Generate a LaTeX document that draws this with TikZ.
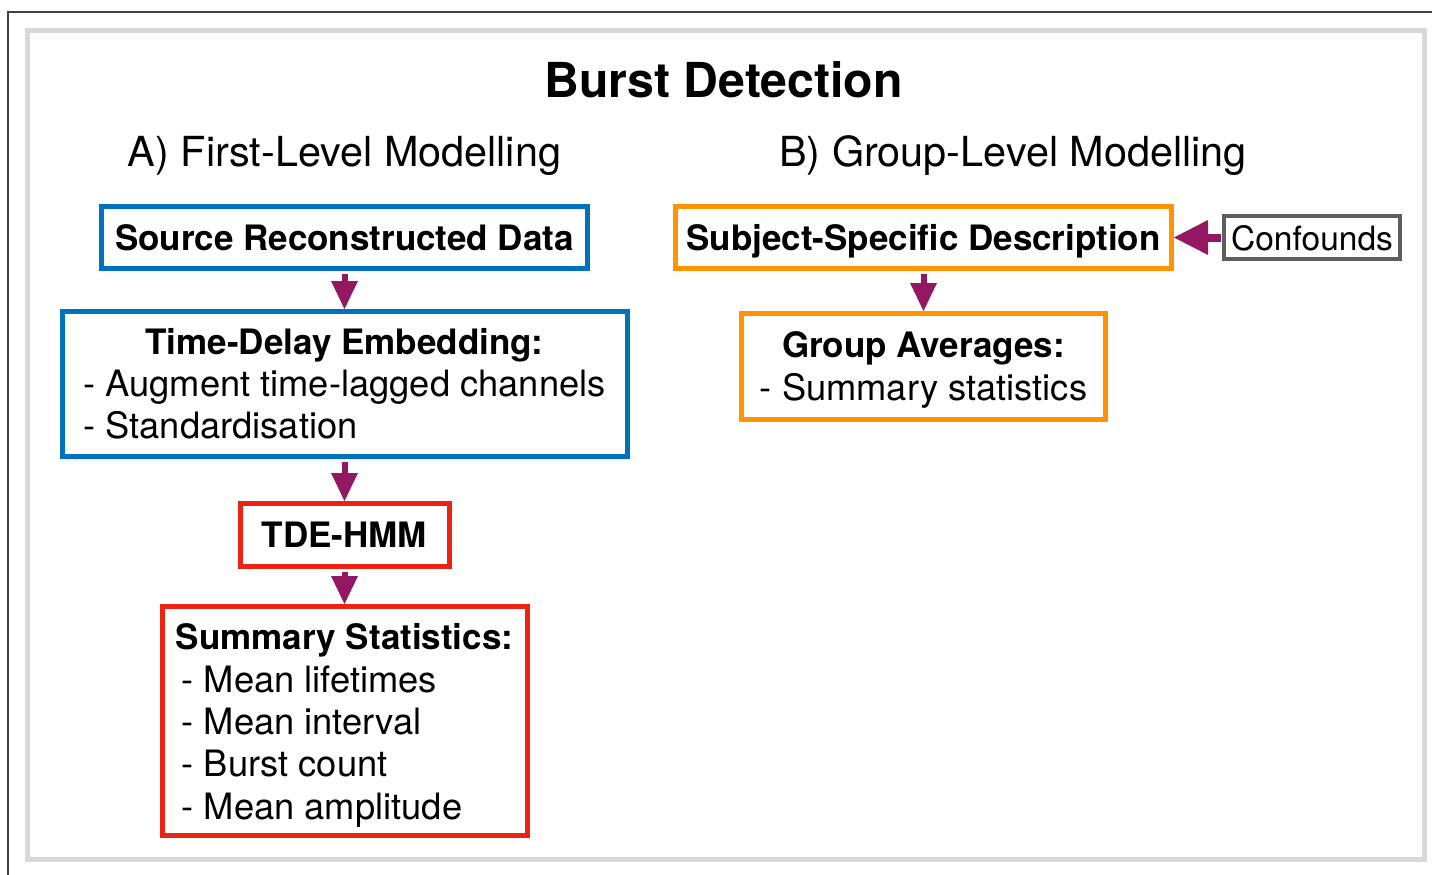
\documentclass[tikz,border=0pt]{standalone}
\usepackage{fontspec}
\setmainfont{TeX Gyre Heros}
\usetikzlibrary{arrows.meta, positioning}

\definecolor{boxblue}{RGB}{0,114,189}
\definecolor{boxred}{RGB}{236,34,18}
\definecolor{boxorange}{RGB}{255,147,0}
\definecolor{boxgray}{RGB}{94,94,94}
\definecolor{arrowpurple}{RGB}{148,23,98}
\definecolor{framegray}{RGB}{216,216,216}

\newcommand\boxhead[1]{\multicolumn{1}{@{}c@{}}{\fontsize{35}{42.3}\selectfont\bfseries #1}}

\begin{document}
\begin{tikzpicture}[x=1pt, y=-1pt, line join=miter,
    box/.style={draw, line width=5pt, fill=white, inner sep=0pt, text depth=0pt,
      font=\fontsize{36.3}{42.3}\selectfont},
    flow/.style={-{Triangle[length=28pt, width=27pt, line width=0pt]},
      line width=6pt, draw=arrowpurple, shorten <=2.5pt},
    heading/.style={anchor=base, font=\fontsize{41.4}{50}\selectfont}]
    \useasboundingbox (0,0) rectangle (1432,875);

    % frames
    \draw[line width=1.5pt, black!75] (1432,12) -- (8,12) -- (8,875);
    \draw[line width=5pt, framegray] (27.5,30.5) rectangle (1424.5,859.5);

    % titles
    \node[anchor=base, font=\fontsize{48.2}{58}\selectfont\bfseries] (title) at (723.5,97) {Burst Detection};
    \node[heading] (headA) at (344.5,166) {A) First-Level Modelling};
    \node[heading] (headB) at (1013,166) {B) Group-Level Modelling};

    % first level
    \node[box, draw=boxblue, minimum width=486pt, minimum height=62pt,
        font=\fontsize{35}{42.3}\selectfont\bfseries] (src) at (344.5,237.5)
        {Source Reconstructed Data};
    \node[box, draw=boxblue, minimum width=565pt, minimum height=145pt, text depth=] (tde) at (344.5,384)
        {\raisebox{-4pt}[\height][\depth]{\begin{tabular}{@{}l@{}}\boxhead{Time-Delay Embedding:}\\
         - Augment time-lagged channels\\
         - Standardisation\end{tabular}}};
    \node[box, draw=boxred, minimum width=209pt, minimum height=63pt,
        font=\fontsize{35}{42.3}\selectfont\bfseries] (hmm) at (344.5,535)
        {TDE-HMM};
    \node[box, draw=boxred, minimum width=365pt, minimum height=229pt, text depth=] (sum) at (344.5,721)
        {\raisebox{-5pt}[\height][\depth]{\begin{tabular}{@{}l@{}}\boxhead{Summary Statistics:}\\
         \hspace{6pt}- Mean lifetimes\\
         \hspace{6pt}- Mean interval\\
         \hspace{6pt}- Burst count\\
         \hspace{6pt}- Mean amplitude\end{tabular}}};

    % group level
    \node[box, draw=boxorange, minimum width=496pt, minimum height=62pt,
        font=\fontsize{35}{42.3}\selectfont\bfseries] (subj) at (923.5,237.5)
        {Subject-Specific Description};
    \node[box, draw=boxorange, minimum width=364pt, minimum height=106pt, text depth=] (grp) at (923.5,366.5)
        {\raisebox{-4pt}[\height][\depth]{\begin{tabular}{@{}l@{}}\boxhead{Group Averages:}\\
         - Summary statistics\end{tabular}}};
    \node[box, draw=boxgray, line width=3.5pt, minimum width=176pt, minimum height=43pt,
        font=\fontsize{33.5}{40}\selectfont] (conf) at (1312,237.5) {Confounds};

    % arrows
    \draw[flow] (src) -- (tde);
    \draw[flow] (tde) -- (hmm);
    \draw[flow] (hmm) -- (sum);
    \draw[flow] (subj) -- (grp);
    \draw[flow, line width=8pt, -{Triangle[length=34pt, width=35pt, line width=0pt]},
        shorten <=1.75pt] (conf) -- (subj);
\end{tikzpicture}
\end{document}
